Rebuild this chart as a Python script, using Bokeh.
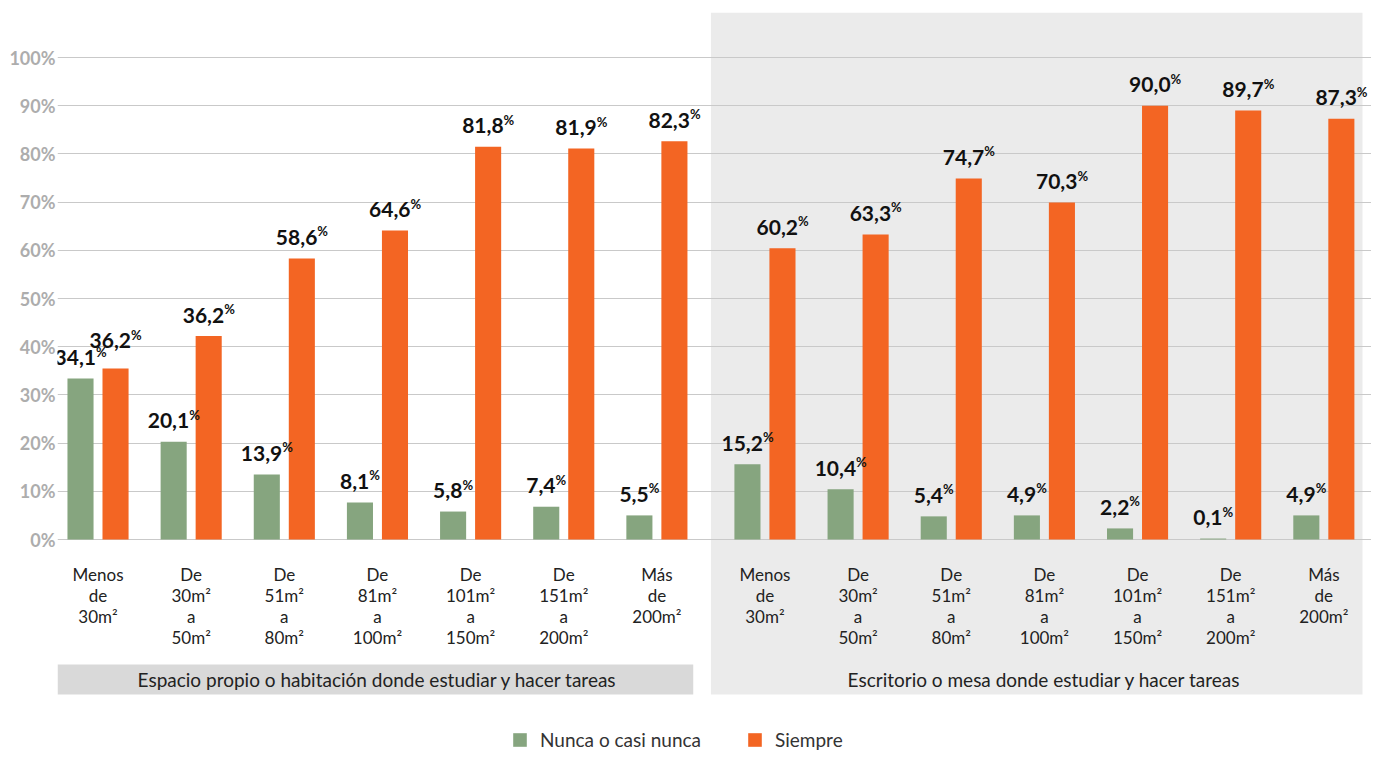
from bokeh.plotting import figure
from bokeh.models import Range1d, FixedTicker, PrintfTickFormatter, Legend, LegendItem, ColumnDataSource
from bokeh.core.properties import value
from bokeh.embed import file_html
from bokeh.resources import INLINE

# ---------------- data ----------------
categories = ["Menos\nde\n30m²", "De\n30m²\na\n50m²", "De\n51m²\na\n80m²", "De\n81m²\na\n100m²",
              "De\n101m²\na\n150m²", "De\n151m²\na\n200m²", "Más\nde\n200m²"]
groups = ["Espacio propio o habitación donde estudiar y hacer tareas",
          "Escritorio o mesa donde estudiar y hacer tareas"]
series = ["Nunca o casi nunca", "Siempre"]

nunca_espacio = [33.4, 20.3, 13.5, 7.7, 5.8, 6.8, 5.0]
siempre_espacio = [35.5, 42.2, 58.3, 64.1, 81.5, 81.1, 82.6]
nunca_escritorio = [15.6, 10.4, 4.8, 5.0, 2.3, 0.2, 5.0]
siempre_escritorio = [60.4, 63.3, 74.9, 69.9, 90.0, 89.0, 87.3]

etiq_nunca_espacio = ["34,1", "20,1", "13,9", "8,1", "5,8", "7,4", "5,5"]
etiq_siempre_espacio = ["36,2", "36,2", "58,6", "64,6", "81,8", "81,9", "82,3"]
etiq_nunca_escritorio = ["15,2", "10,4", "5,4", "4,9", "2,2", "0,1", "4,9"]
etiq_siempre_escritorio = ["60,2", "63,3", "74,7", "70,3", "90,0", "89,7", "87,3"]

y_ticks = [0, 10, 20, 30, 40, 50, 60, 70, 80, 90, 100]

# ---------------- layout / style ----------------
GREEN = "#86A57F"
ORANGE = "#F36523"
FONT = "Lato"
GROUP_SHIFT = 7.16
DODGE = 0.188
BAR_W = 0.28
PX = 100 / 482.0  # data units per pixel (y)
XPX = 1 / 93.15   # data units per pixel (x)
YTOP = 100 + 45 * PX
YBOT = -(751 - 539) * PX
XL = -0.435
X_PANEL_END = 13.575
XR = X_PANEL_END + 9 * XPX
LABEL_GAP = 21      # px between bar top and label baseline
MIN_SEP = 17        # px minimum vertical separation of paired labels

W, H = 1371, 751
p = figure(width=W, height=H, output_backend="svg", toolbar_location=None,
           x_range=Range1d(XL, XR), y_range=Range1d(YBOT, YTOP),
           x_axis_location=None, min_border=0,
           min_border_left=57, min_border_right=0, min_border_top=12, min_border_bottom=0)
p.outline_line_color = None
p.background_fill_color = "white"
p.xgrid.visible = False
p.ygrid.ticker = FixedTicker(ticks=y_ticks)
p.ygrid.grid_line_color = "#C9C9C9"
p.ygrid.grid_line_width = 1
p.ygrid.bounds = (XL, X_PANEL_END)

ax = p.yaxis[0]
ax.ticker = FixedTicker(ticks=y_ticks)
ax.formatter = PrintfTickFormatter(format="%d%%")
ax.axis_line_color = None
ax.major_tick_line_color = None
ax.minor_tick_line_color = None
ax.major_tick_out = 0
ax.major_tick_in = 0
ax.major_label_standoff = 2
ax.major_label_text_font = FONT
ax.major_label_text_font_style = "bold"
ax.major_label_text_font_size = "18px"
ax.major_label_text_color = "#ADADAD"

# backgrounds (below grid)
mid_gap = (6 + GROUP_SHIFT) / 2
p.quad(left=[mid_gap], right=[X_PANEL_END], top=[YTOP], bottom=[(539 - 694) * PX],
       fill_color="#EBEBEB", line_color=None, level="image")
p.quad(left=[XL], right=[6.39], top=[(539 - 664) * PX], bottom=[(539 - 694) * PX],
       fill_color="#D9D9D9", line_color=None, level="image")

# bars
xs = [i + g * GROUP_SHIFT for g in range(2) for i in range(len(categories))]
nunca = nunca_espacio + nunca_escritorio
siempre = siempre_espacio + siempre_escritorio


def label_offsets(labels):
    # right edge of the number so that "number + %" is centred on the bar
    out = []
    for s in labels:
        w = sum(5.8 if c == "," else 12.4 for c in s)
        out.append((w + 12) / 2 - 12)
    return out


# vertical label offsets: push the orange label up if it collides with the green one
yo_n = [-LABEL_GAP] * len(nunca)
yo_s = [-LABEL_GAP - max(0.0, MIN_SEP - (s - n) / PX) if s >= n else -LABEL_GAP
        for n, s in zip(nunca, siempre)]

lab_n = etiq_nunca_espacio + etiq_nunca_escritorio
lab_s = etiq_siempre_espacio + etiq_siempre_escritorio
src_n = ColumnDataSource(dict(x=[x - DODGE for x in xs], top=nunca, lab=lab_n, xo=label_offsets(lab_n),
                              yo=yo_n, yp=[v - 6 for v in yo_n]))
src_s = ColumnDataSource(dict(x=[x + DODGE for x in xs], top=siempre, lab=lab_s, xo=label_offsets(lab_s),
                              yo=yo_s, yp=[v - 6 for v in yo_s]))
r_n = p.vbar(x="x", top="top", bottom=0, width=BAR_W, source=src_n, fill_color=GREEN, line_color=None)
r_s = p.vbar(x="x", top="top", bottom=0, width=BAR_W, source=src_s, fill_color=ORANGE, line_color=None)

# value labels
for src in (src_n, src_s):
    p.text(x="x", y="top", text="lab", source=src, text_align="right", text_baseline="alphabetic",
           x_offset="xo", y_offset="yo", text_font=value(FONT), text_font_style="bold",
           text_font_size="21px", text_color="#111111")
    p.text(x="x", y="top", text=value("%"), source=src, text_align="left", text_baseline="alphabetic",
           x_offset="xo", y_offset="yp", text_font=value(FONT), text_font_style="bold",
           text_font_size="13px", text_color="#111111")

# category labels
p.text(x=xs, y=[(539 - 563) * PX] * len(xs), text=categories * 2, text_align="center",
       text_baseline="top", text_font=value(FONT), text_font_size="17px", text_color="#222222",
       text_line_height=1.01)

# group labels
p.text(x=[3, 3 + GROUP_SHIFT], y=[(539 - 679) * PX] * 2, text=groups, text_align="center",
       text_baseline="middle", text_font=value(FONT), text_font_size="19px", text_color="#222222")

legend = Legend(items=[LegendItem(label=series[0], renderers=[r_n]),
                       LegendItem(label=series[1], renderers=[r_s])],
                location=(454, 0), orientation="horizontal")
legend.border_line_color = None
legend.background_fill_alpha = 0
legend.padding = 0
legend.margin = 0
legend.spacing = 45
legend.label_standoff = 12
legend.glyph_width = 17
legend.glyph_height = 17
legend.label_height = 17
legend.label_text_font = FONT
legend.label_text_font_size = "19px"
legend.label_text_color = "#333333"
p.add_layout(legend)

open("out.html", "w").write(file_html(p, INLINE))
